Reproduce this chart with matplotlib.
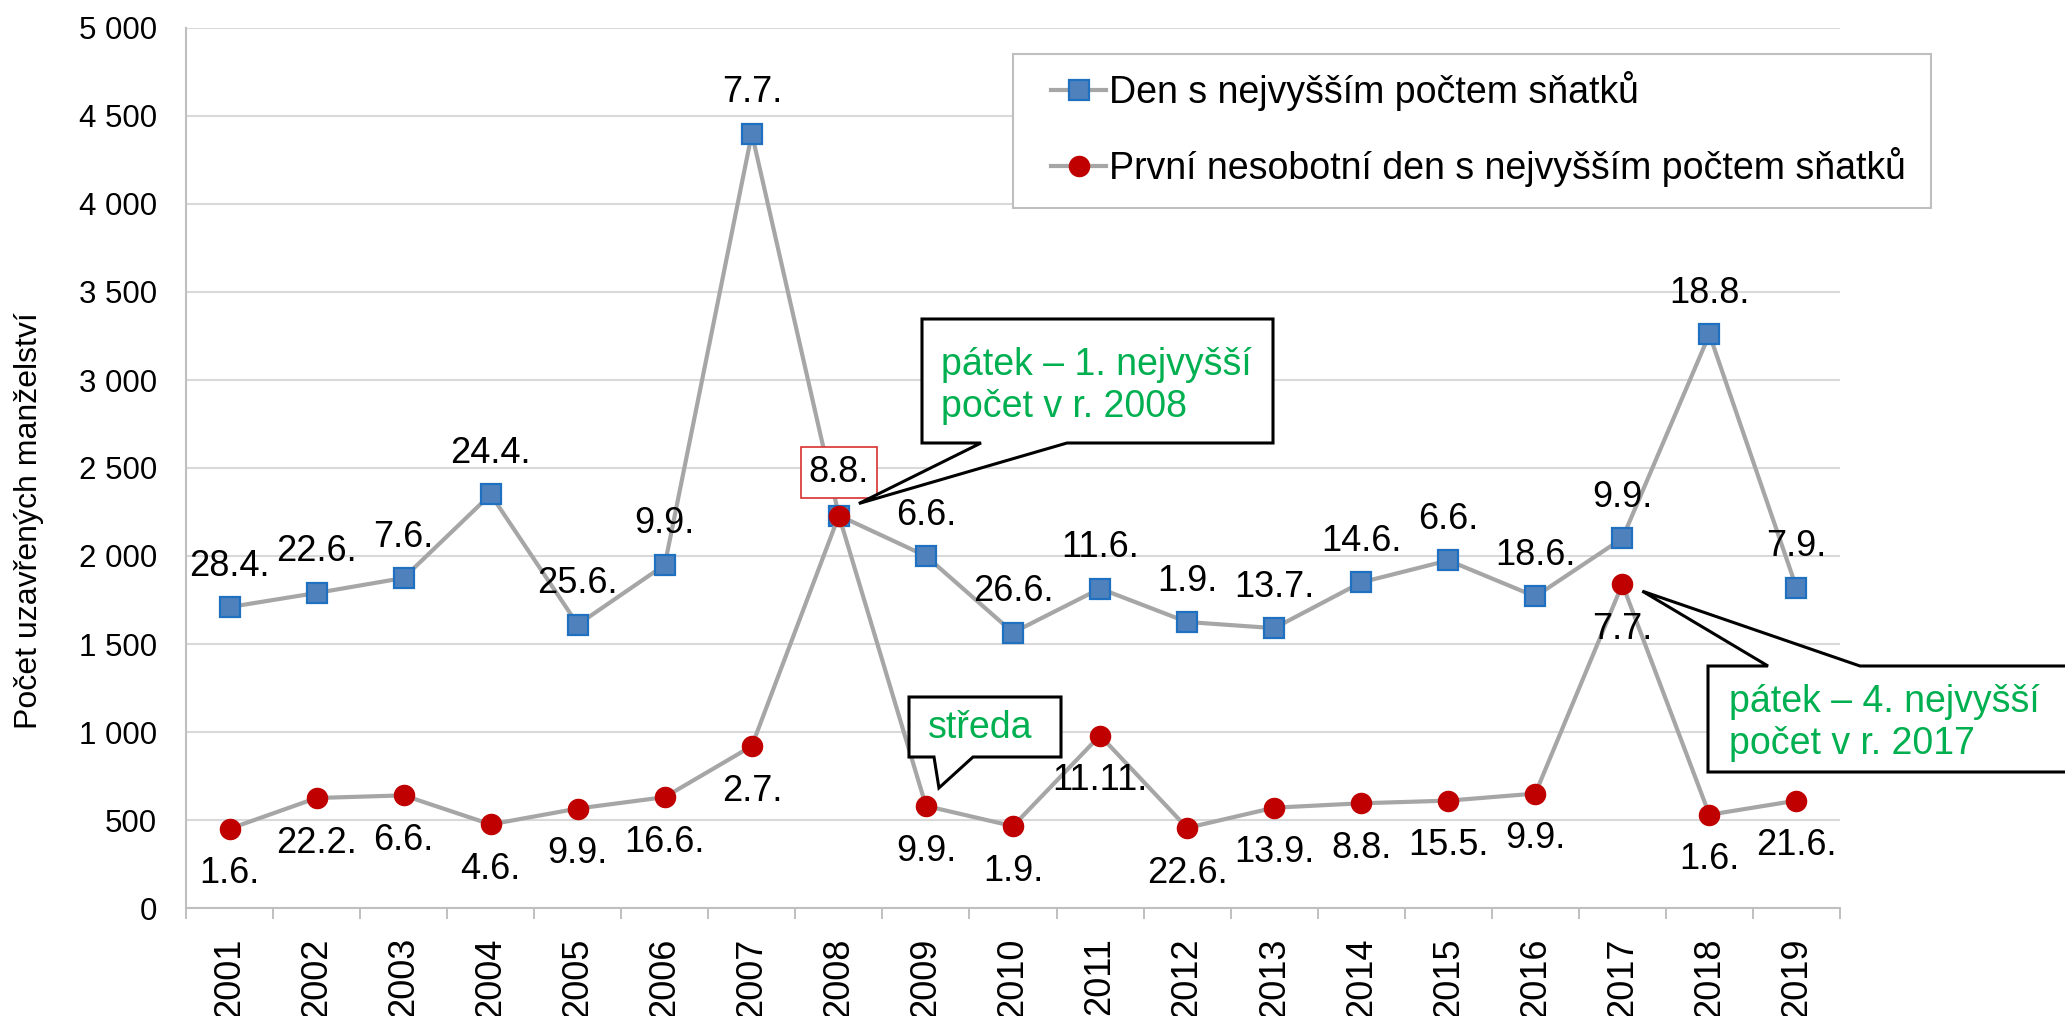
import matplotlib
matplotlib.use('Agg')
import matplotlib.pyplot as plt
from matplotlib.patches import Polygon, Rectangle
import numpy as np

plt.rcParams['font.family'] = ['Liberation Sans', 'DejaVu Sans']

# ---------------- data ----------------
years = [str(y) for y in range(2001, 2020)]
max_day_counts = [1710, 1790, 1875, 2350, 1610, 1950, 4400, 2230, 2000, 1565,
                  1815, 1625, 1590, 1850, 1975, 1770, 2100, 3260, 1820]
max_day_labels = ['28.4.', '22.6.', '7.6.', '24.4.', '25.6.', '9.9.', '7.7.', '8.8.', '6.6.', '26.6.',
                  '11.6.', '1.9.', '13.7.', '14.6.', '6.6.', '18.6.', '9.9.', '18.8.', '7.9.']
nonsat_counts = [450, 625, 640, 475, 565, 630, 920, 2230, 580, 465,
                 980, 455, 570, 595, 610, 650, 1840, 530, 610]
nonsat_labels = ['1.6.', '22.2.', '6.6.', '4.6.', '9.9.', '16.6.', '2.7.', '8.8.', '9.9.', '1.9.',
                 '11.11.', '22.6.', '13.9.', '8.8.', '15.5.', '9.9.', '7.7.', '1.6.', '21.6.']
y_ticks = [0, 500, 1000, 1500, 2000, 2500, 3000, 3500, 4000, 4500, 5000]
y_tick_labels = ['0', '500', '1 000', '1 500', '2 000', '2 500', '3 000', '3 500', '4 000', '4 500', '5 000']
series_names = ['Den s nejvyšším počtem sňatků', 'První nesobotní den s nejvyšším počtem sňatků']
ylabel = 'Počet uzavřených manželství'
callout_2008 = 'pátek – 1. nejvyšší\npočet v r. 2008'
callout_2017 = 'pátek – 4. nejvyšší\npočet v r. 2017'
callout_2009 = 'středa'

# ---------------- figure ----------------
W, H = 2065, 1016
fig = plt.figure(figsize=(W / 100, H / 100), dpi=100)
ax = fig.add_axes([186 / W, 1 - 908 / H, (1840 - 186) / W, (908 - 28) / H])

x = np.arange(len(years))
line_col = '#A6A6A6'
blue_fill, blue_edge = '#4F81BD', '#1F70C1'
red_fill = '#C00000'
green = '#00B050'

ax.plot(x, max_day_counts, color=line_col, lw=3.0, marker='s', ms=14,
        mfc=blue_fill, mec=blue_edge, mew=1.6, zorder=3, label=series_names[0])
ax.plot(x, nonsat_counts, color=line_col, lw=3.0, marker='o', ms=14.5,
        mfc=red_fill, mec=red_fill, mew=1, zorder=4, label=series_names[1])

ax.set_xlim(-0.5, len(years) - 0.5)
ax.set_ylim(0, 5000)
ax.set_yticks(y_ticks)
ax.set_yticklabels(y_tick_labels, fontsize=22.5)
ax.tick_params(axis='y', length=0, pad=21)
ax.yaxis.grid(True, color='#D9D9D9', lw=1.5)
ax.set_axisbelow(True)

ax.set_xticks(np.arange(-0.5, len(years), 1))
ax.set_xticklabels([])
ax.tick_params(axis='x', which='major', length=8, width=1.4, color='#BFBFBF', direction='out')
ax.set_xticks(x, minor=True)
ax.set_xticklabels(years, minor=True, rotation=90, fontsize=26)
ax.tick_params(axis='x', which='minor', length=0, pad=21)

for s in ['top', 'right']:
    ax.spines[s].set_visible(False)
for s in ['left', 'bottom']:
    ax.spines[s].set_color('#BFBFBF')
    ax.spines[s].set_linewidth(1.5)

fig.text(29 / W, 1 - 521 / H, ylabel, rotation=90, ha='center', va='center', fontsize=23)

# data labels
for i, (v, lab) in enumerate(zip(max_day_counts, max_day_labels)):
    if i == 7:
        continue
    ax.annotate(lab, (i, v), xytext=(0, 29.5), textcoords='offset points',
                ha='center', va='center', fontsize=26, zorder=6)
for i, (v, lab) in enumerate(zip(nonsat_counts, nonsat_labels)):
    if i == 7:
        ax.annotate(lab, (i, v), xytext=(0, 31), textcoords='offset points',
                    ha='center', va='center', fontsize=26, zorder=6,
                    bbox=dict(boxstyle='square,pad=0.22', fc='white', ec='#D83030', lw=1.2))
        continue
    ax.annotate(lab, (i, v), xytext=(0, -32.5), textcoords='offset points',
                ha='center', va='center', fontsize=26, zorder=6)

# legend (frame drawn separately to match the reference box)
ax.add_patch(Rectangle((1013 / W, 1 - 208 / H), (1931 - 1013) / W, (208 - 54) / H,
                       transform=fig.transFigure, fc='white', ec='#BFBFBF', lw=1.5,
                       zorder=4.9, clip_on=False))
leg = ax.legend(loc='upper left', bbox_to_anchor=(1051 / W, 1 - 71 / H),
                bbox_transform=fig.transFigure, borderaxespad=0, fontsize=27,
                frameon=False, handlelength=1.47, handletextpad=0.08,
                labelspacing=0.95, borderpad=0)
leg.set_zorder(5)


# callouts (box shapes in pixel space, tip anchored to data point)
def px(pt):
    return (pt[0] / W, 1 - pt[1] / H)


def data_px(i, v):
    dx, dy = ax.transData.transform((i, v))
    return dx, H - dy


def add_poly(pts):
    poly = Polygon([px(p) for p in pts], closed=True, transform=fig.transFigure,
                   fc='white', ec='black', lw=2.2, zorder=10, joinstyle='miter')
    fig.add_artist(poly)


# 2008 callout
i08 = years.index('2008')
tx, ty = data_px(i08, nonsat_counts[i08])
tip = (tx + 20, ty - 12)
add_poly([(922, 319), (1273, 319), (1273, 443), (1067, 443), tip, (981, 443), (922, 443)])
fig.text(941 / W, 1 - 386 / H, callout_2008, color=green, fontsize=27, ha='left', va='center',
         linespacing=1.18, zorder=11)

# 2017 callout
i17 = years.index('2017')
tx, ty = data_px(i17, nonsat_counts[i17])
tip = (tx + 20, ty + 7)
add_poly([(1708, 666), (1768, 666), tip, (1860, 666), (2075, 666), (2075, 772), (1708, 772)])
fig.text(1729 / W, 1 - 723 / H, callout_2017, color=green, fontsize=27, ha='left', va='center',
         linespacing=1.18, zorder=11)

# 2009 callout
i09 = years.index('2009')
tx, ty = data_px(i09, nonsat_counts[i09])
tip = (tx + 13, ty - 18)
add_poly([(909, 697), (1061, 697), (1061, 757), (973, 757), tip, (934, 757), (909, 757)])
fig.text(928 / W, 1 - 728 / H, callout_2009, color=green, fontsize=27, ha='left', va='center',
         zorder=11)

fig.savefig('out.png', dpi=100, facecolor='white')
